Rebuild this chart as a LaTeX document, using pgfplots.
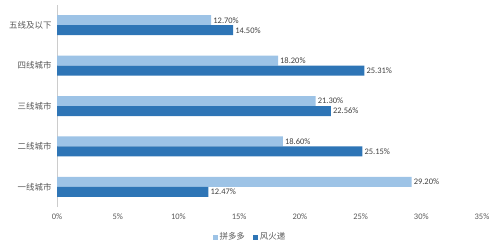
\documentclass[border=0pt]{standalone}
\usepackage{fontspec}
\setmainfont{Carlito}
\newfontfamily\cjk{Noto Sans CJK SC}
\usepackage{pgfplots}
\pgfplotsset{compat=1.18}
\definecolor{lightb}{HTML}{9DC3E6}
\definecolor{darkb}{HTML}{2E75B6}
\definecolor{txt}{HTML}{595959}
\begin{document}
\begin{tikzpicture}
\path[use as bounding box] (-57bp,-44bp) rectangle (443bp,207bp);
\begin{axis}[
  at={(0,0)}, anchor=south west,
  scale only axis, width=425bp, height=202bp,
  xmin=0, xmax=35, ymin=-0.5, ymax=4.5,
  /pgf/number format/assume math mode=true,
  xtick={0,5,...,35},
  xticklabels={0\%,5\%,10\%,15\%,20\%,25\%,30\%,35\%},
  ytick={0,1,2,3,4},
  yticklabels={一线城市,二线城市,三线城市,四线城市,五线及以下},
  yticklabel style={font=\cjk\fontsize{8.5}{10}\selectfont, text=txt, xshift=-2bp},
  xticklabel style={font=\fontsize{8.5}{10}\selectfont, text=txt, yshift=-3bp},
  axis x line*=bottom, axis y line*=left,
  x axis line style={draw=none},
  y axis line style={draw=gray!40},
  major tick length=0pt,
  xbar, bar width=10bp,
  point meta=x,
  nodes near coords={\pgfmathprintnumber[fixed,fixed zerofill,precision=2]{\pgfplotspointmeta}\%},
  nodes near coords style={font=\fontsize{8.5}{10}\selectfont, text=black!75, anchor=west, inner sep=2bp},
  legend style={draw=none, at={(0.454,-0.149)}, anchor=center, legend columns=2,
    font=\cjk\fontsize{8.5}{10}\selectfont, text=txt, /tikz/every even column/.append style={column sep=6bp}},
  legend image code/.code={\fill[#1] (0bp,-2.5bp) rectangle (5bp,2.5bp);},
]
\addplot[fill=lightb, draw=none, bar shift=5bp] coordinates {(29.20,0) (18.60,1) (21.30,2) (18.20,3) (12.70,4)};
\addlegendentry{拼多多}
\addplot[fill=darkb, draw=none, bar shift=-5bp] coordinates {(12.47,0) (25.15,1) (22.56,2) (25.31,3) (14.50,4)};
\addlegendentry{风火递}
\end{axis}
\end{tikzpicture}
\end{document}
